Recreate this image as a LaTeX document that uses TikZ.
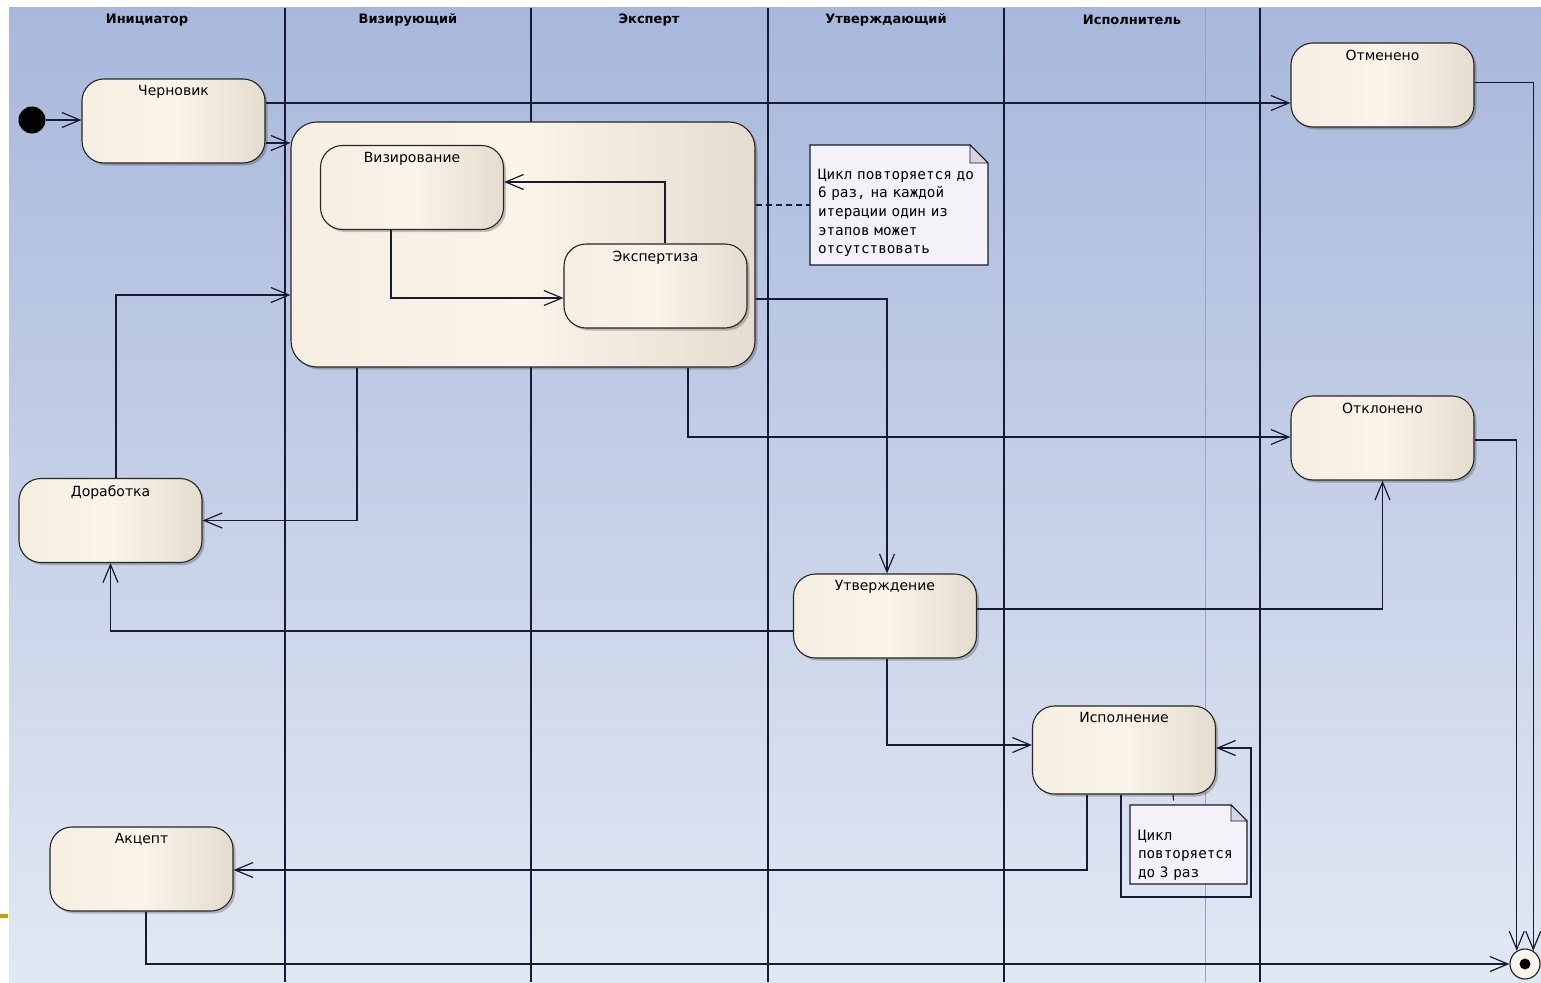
\documentclass[tikz,border=0pt]{standalone}
\usepackage{fontspec}
\setmainfont{DejaVu Sans}
\newfontfamily\notefont{DejaVu Sans Mono}
\usetikzlibrary{arrows.meta,shadows}
\definecolor{bgtop}{RGB}{168,184,220}
\definecolor{bgbot}{RGB}{226,232,243}
\definecolor{linecol}{RGB}{22,26,52}
\definecolor{nodeL}{RGB}{245,238,225}
\definecolor{nodeM}{RGB}{250,244,233}
\definecolor{nodeR}{RGB}{228,220,206}
\definecolor{notefill}{RGB}{244,242,248}
\definecolor{foldfill}{RGB}{214,214,222}
\definecolor{lanefaint}{RGB}{150,163,205}
\definecolor{stripe}{RGB}{200,160,0}
\begin{document}
\begin{tikzpicture}[x=1pt,y=-1pt,
  statebox/.style={draw=black!85, line width=1.1pt, rounded corners=22pt,
    left color=nodeL, right color=nodeR, middle color=nodeM,
    drop shadow={shadow xshift=2.5pt,shadow yshift=-2.5pt,fill=black,opacity=0.22},
    minimum width=183pt, minimum height=84pt, inner sep=0pt},
  statelabel/.style={anchor=north, inner sep=0pt, yshift=-7pt, font=\fontsize{14}{16}\selectfont},
  lanelabel/.style={inner sep=0pt, font=\bfseries\fontsize{13}{15}\selectfont},
  laneline/.style={draw=linecol, line width=1.2pt},
  arr/.style={draw=linecol, line width=1.2pt, -{Straight Barb[length=18pt,width=15pt]}},
  notebox/.style={fill=notefill, draw=linecol, line width=1.1pt},
  notetext/.style={inner xsep=8pt, inner ysep=0pt, align=left, font=\notefont\fontsize{14.3}{18.7}\selectfont},
  notelink/.style={draw=linecol, line width=1.1pt, dash pattern=on 6pt off 4pt}
]
\useasboundingbox (0,0) rectangle (1541,982);
% background
\fill[top color=bgtop, bottom color=bgbot] (9,8) rectangle (1541,982);
\fill[stripe] (0,914) rectangle (8,918);
% lanes
\draw[draw=lanefaint, line width=0.8pt] (1205,8) -- (1205,982);
\foreach \lx in {285,531,768,1004,1260} \draw[laneline] (\lx,8) -- (\lx,982);
\node[lanelabel] (l1) at (147,20) {Инициатор};
\node[lanelabel] (l2) at (408,20) {Визирующий};
\node[lanelabel] (l3) at (649,20) {Эксперт};
\node[lanelabel] (l4) at (886,20) {Утверждающий};
\node[lanelabel] (l5) at (1132,20) {Исполнитель};

% initial / final
\node[circle, fill=black, minimum size=27pt, inner sep=0pt] (init) at (32,120) {};
\node[circle, draw=linecol, fill=nodeM, line width=1.1pt, minimum size=30pt, inner sep=0pt] (fin) at (1525,964) {};
\fill[black] (fin.center) circle (5.5);

% states
\node[statebox] (cher) at (173.5,121) {};
\node[statelabel] at (cher.north) {Черновик};
\node[statebox, rounded corners=26pt, minimum width=464pt, minimum height=245pt] (comp) at (523,244.5) {};
\node[statebox] (viz) at (412,187.5) {};
\node[statelabel] at (viz.north) {Визирование};
\node[statebox] (eksp) at (655.5,286) {};
\node[statelabel] at (eksp.north) {Экспертиза};
\node[statebox] (otm) at (1382.5,85) {};
\node[statelabel] at (otm.north) {Отменено};
\node[statebox] (otk) at (1382.5,438) {};
\node[statelabel] at (otk.north) {Отклонено};
\node[statebox] (dor) at (110.5,520.5) {};
\node[statelabel] at (dor.north) {Доработка};
\node[statebox] (utv) at (885,616) {};
\node[statelabel] at (utv.north) {Утверждение};
\node[statebox, minimum height=88pt] (isp) at (1124,750) {};
\node[statelabel] at (isp.north) {Исполнение};
\node[statebox] (akc) at (141.5,869) {};
\node[statelabel] at (akc.north) {Акцепт};

% notes
\filldraw[notebox] (810,145) -- (970,145) -- (988,163) -- (988,265) -- (810,265) -- cycle;
\filldraw[fill=foldfill, draw=linecol, line width=0.8pt] (970,145) -- (970,163) -- (988,163) -- cycle;
\node[notetext, text width=162pt] (n1) at (899,212.7) {Цикл повторяется до\\6 раз, на каждой\\итерации один из\\этапов может\\отсутствовать};
\filldraw[notebox] (1130,805) -- (1231,805) -- (1247,821) -- (1247,884) -- (1130,884) -- cycle;
\filldraw[fill=foldfill, draw=linecol, line width=0.8pt] (1231,805) -- (1231,821) -- (1247,821) -- cycle;
\node[notetext, text width=101pt] (n2) at (1188.5,855) {Цикл\\повторяется\\до 3 раз};

% note links
\draw[notelink] ([yshift=39.5]comp.east) -- ([yshift=7.7]n1.west);
\draw[notelink] ([xshift=49]isp.south) -- ([xshift=-14.5,yshift=24.7]n2.north);

% transitions
\draw[arr] (init) -- (cher.west |- init);
\draw[arr] ([yshift=18]cher.east) -- ([yshift=-18]otm.west);
\draw[arr] ([yshift=-22]cher.east) -- ([yshift=101.5]comp.west);
\draw[arr] ([xshift=5.5]dor.north) |- ([yshift=-50.5]comp.west);
\draw[arr] ([xshift=-166]comp.south) |- (dor.east);
\draw[arr] ([xshift=-21]viz.south) |- ([yshift=-12]eksp.west);
\draw[arr] ([xshift=9.5]eksp.north) |- ([yshift=5.5]viz.east);
\draw[arr] ([xshift=165]comp.south) |- ([yshift=1]otk.west);
\draw[arr] ([yshift=-54.5]comp.east) -| ([xshift=2]utv.north);
\draw[arr] ([yshift=-15]utv.west) -| (dor.south);
\draw[arr] ([yshift=7]utv.east) -| (otk.south);
\draw[arr] ([xshift=2]utv.south) |- ([yshift=5]isp.west);
\draw[arr] ([xshift=-37]isp.south) |- ([yshift=-1]akc.east);
\draw[arr] ([xshift=-3]isp.south) |- ([xshift=35,yshift=-147]isp.east) |- ([yshift=2]isp.east);
\draw[arr] ([xshift=4.5]akc.south) |- (fin.west);
\draw[arr] ([yshift=2.5]otm.east) -| (fin.58);
\draw[arr] ([yshift=-2]otk.east) -| (fin.122);
\end{tikzpicture}
\end{document}
